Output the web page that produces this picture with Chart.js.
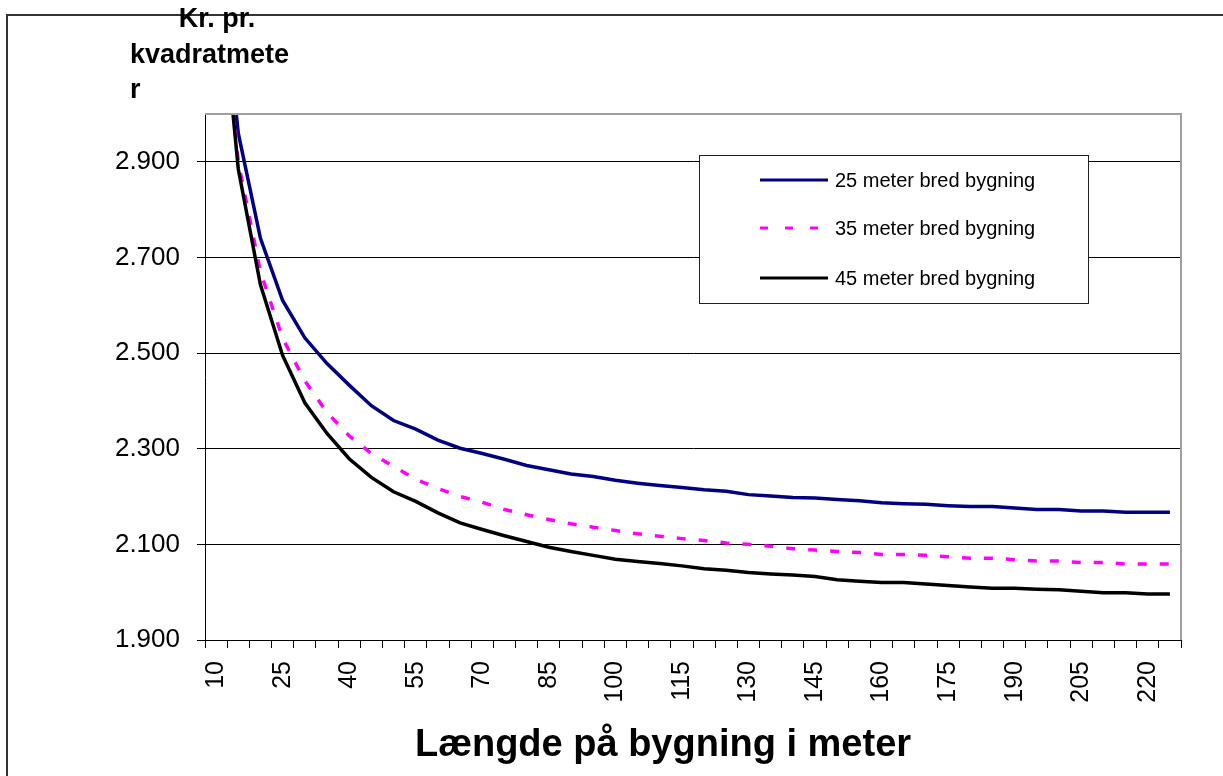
<!DOCTYPE html>
<html>
<head>
<meta charset="utf-8">
<script src="https://cdn.jsdelivr.net/npm/chart.js@4"></script>
<style>
  html, body { margin: 0; padding: 0; background: #fff; }
  #wrap { width: 1223px; height: 776px; }
</style>
</head>
<body>
<div id="wrap"><canvas id="chart" width="1223" height="776"></canvas></div>
<script>
// Kr. pr. kvadratmeter vs. bygningens længde, for tre bygningsbredder.

const lengths = [10, 15, 20, 25, 30, 35, 40, 45, 50, 55, 60, 65, 70, 75, 80,
                 85, 90, 95, 100, 105, 110, 115, 120, 125, 130, 135, 140, 145,
                 150, 155, 160, 165, 170, 175, 180, 185, 190, 195, 200, 205,
                 210, 215, 220, 225];

const bred25 = [3400, 2960, 2740, 2610, 2532, 2478, 2433, 2390, 2359, 2341, 2318,
                2301, 2290, 2278, 2265, 2256, 2247, 2242, 2234, 2228, 2223, 2219,
                2214, 2211, 2204, 2201, 2198, 2197, 2194, 2191, 2187, 2185, 2184,
                2181, 2179, 2179, 2176, 2173, 2173, 2170, 2170, 2167, 2167, 2167];

const bred35 = [3380, 2900, 2670, 2531, 2442, 2376, 2327, 2290, 2263, 2236, 2217,
                2200, 2188, 2173, 2162, 2152, 2143, 2136, 2129, 2122, 2117, 2112,
                2108, 2103, 2100, 2096, 2091, 2088, 2085, 2083, 2079, 2079, 2077,
                2074, 2071, 2071, 2068, 2065, 2065, 2062, 2062, 2059, 2059, 2059];

const bred45 = [3370, 2885, 2643, 2495, 2396, 2332, 2279, 2240, 2210, 2190, 2166,
                2145, 2131, 2118, 2106, 2094, 2085, 2077, 2069, 2064, 2060, 2055,
                2049, 2046, 2041, 2038, 2036, 2033, 2026, 2023, 2020, 2020, 2017,
                2014, 2011, 2008, 2008, 2006, 2005, 2002, 1999, 1999, 1996, 1996];

const seriesNames = ["25 meter bred bygning", "35 meter bred bygning", "45 meter bred bygning"];
const yTicks      = [1900, 2100, 2300, 2500, 2700, 2900];
const yMin = 1900;
const yMax = 3000;
const labelEvery = 3;

const FONT = '"Liberation Sans", Arial, sans-serif';

function thousands(v) {
  return String(v).replace(/\B(?=(\d{3})+(?!\d))/g, ".");
}

// ─── Decorations: frame, titles, legend box ─────────────────────────────────

const decor = {
  id: "decor",
  beforeDraw(chart) {
    const ctx = chart.ctx;
    ctx.save();
    ctx.fillStyle = "#fff";
    ctx.fillRect(0, 0, chart.width, chart.height);
    ctx.strokeStyle = "#333";
    ctx.lineWidth = 2;
    ctx.beginPath();
    ctx.moveTo(7, chart.height);
    ctx.lineTo(7, 15);
    ctx.lineTo(chart.width, 15);
    ctx.stroke();
    ctx.restore();
  },
  afterDraw(chart) {
    const ctx = chart.ctx;
    const a   = chart.chartArea;
    ctx.save();

    // plot area top + right edges
    ctx.strokeStyle = "#a0a0a0";
    ctx.lineWidth = 2;
    ctx.beginPath();
    ctx.moveTo(a.left, a.top);
    ctx.lineTo(a.right, a.top);
    ctx.lineTo(a.right, a.bottom);
    ctx.stroke();

    // legend
    ctx.fillStyle = "#fff";
    ctx.fillRect(699.5, 155.5, 389, 148);
    ctx.strokeStyle = "#222";
    ctx.lineWidth = 1;
    ctx.strokeRect(699.5, 155.5, 389, 148);
    const rows = [180, 228, 278];
    chart.data.datasets.forEach((ds, i) => {
      ctx.strokeStyle = ds.borderColor;
      ctx.lineWidth = 3;
      ctx.setLineDash(ds.borderDash ? [8, 17] : []);
      ctx.beginPath();
      ctx.moveTo(760, rows[i]);
      ctx.lineTo(828, rows[i]);
      ctx.stroke();
      ctx.setLineDash([]);
      ctx.fillStyle = "#000";
      ctx.font = "20px " + FONT;
      ctx.textBaseline = "middle";
      ctx.textAlign = "left";
      ctx.fillText(ds.label, 835, rows[i] + 1);
    });

    // y title (wrapped like the original)
    ctx.fillStyle = "#000";
    ctx.font = "bold 27px " + FONT;
    ctx.textBaseline = "alphabetic";
    ctx.textAlign = "center";
    ctx.fillText("Kr. pr.", 217, 27);
    ctx.textAlign = "left";
    ctx.fillText("kvadratmete", 130, 63);
    ctx.fillText("r", 130, 98);

    // x title
    ctx.font = "bold 38px " + FONT;
    ctx.textAlign = "center";
    ctx.fillText("Længde på bygning i meter", 663, 756);
    ctx.restore();
  },
};

new Chart(document.getElementById("chart"), {
  type: "line",
  data: {
    labels: lengths,
    datasets: [
      { label: seriesNames[0], data: bred25, borderColor: "#000080", borderWidth: 3.5, order: 3 },
      { label: seriesNames[1], data: bred35, borderColor: "#ff00ff", borderWidth: 3.5, borderDash: [9, 13], order: 2 },
      { label: seriesNames[2], data: bred45, borderColor: "#000000", borderWidth: 3.5, order: 1 },
    ].map((d) => ({ ...d, pointRadius: 0, tension: 0, fill: false, clip: 0 })),
  },
  options: {
    responsive: false,
    animation: false,
    layout: { padding: { top: 114, right: 42, left: 0, bottom: 0 } },
    plugins: { legend: { display: false }, tooltip: { enabled: false }, title: { display: false } },
    scales: {
      x: {
        type: "category",
        offset: true,
        afterFit: (s) => { s.height = 136; },
        border: { color: "#000", width: 1 },
        grid: { offset: true, drawOnChartArea: false, drawTicks: true, tickLength: 8, color: "#000" },
        ticks: {
          autoSkip: false,
          minRotation: 90,
          maxRotation: 90,
          padding: 13,
          color: "#000",
          font: { family: FONT, size: 25 },
          callback: function (v, i) { return i % labelEvery === 0 ? this.getLabelForValue(v) : ""; },
        },
      },
      y: {
        min: yMin,
        max: yMax,
        afterFit: (s) => { s.width = 205; },
        afterBuildTicks: (s) => { s.ticks = yTicks.map((v) => ({ value: v })); },
        border: { color: "#000", width: 1 },
        grid: { color: "#000", lineWidth: 1, tickLength: 8 },
        ticks: {
          padding: 17,
          color: "#000",
          font: { family: FONT, size: 26 },
          callback: (v) => thousands(v),
        },
      },
    },
  },
  plugins: [decor],
});
</script>
</body>
</html>
